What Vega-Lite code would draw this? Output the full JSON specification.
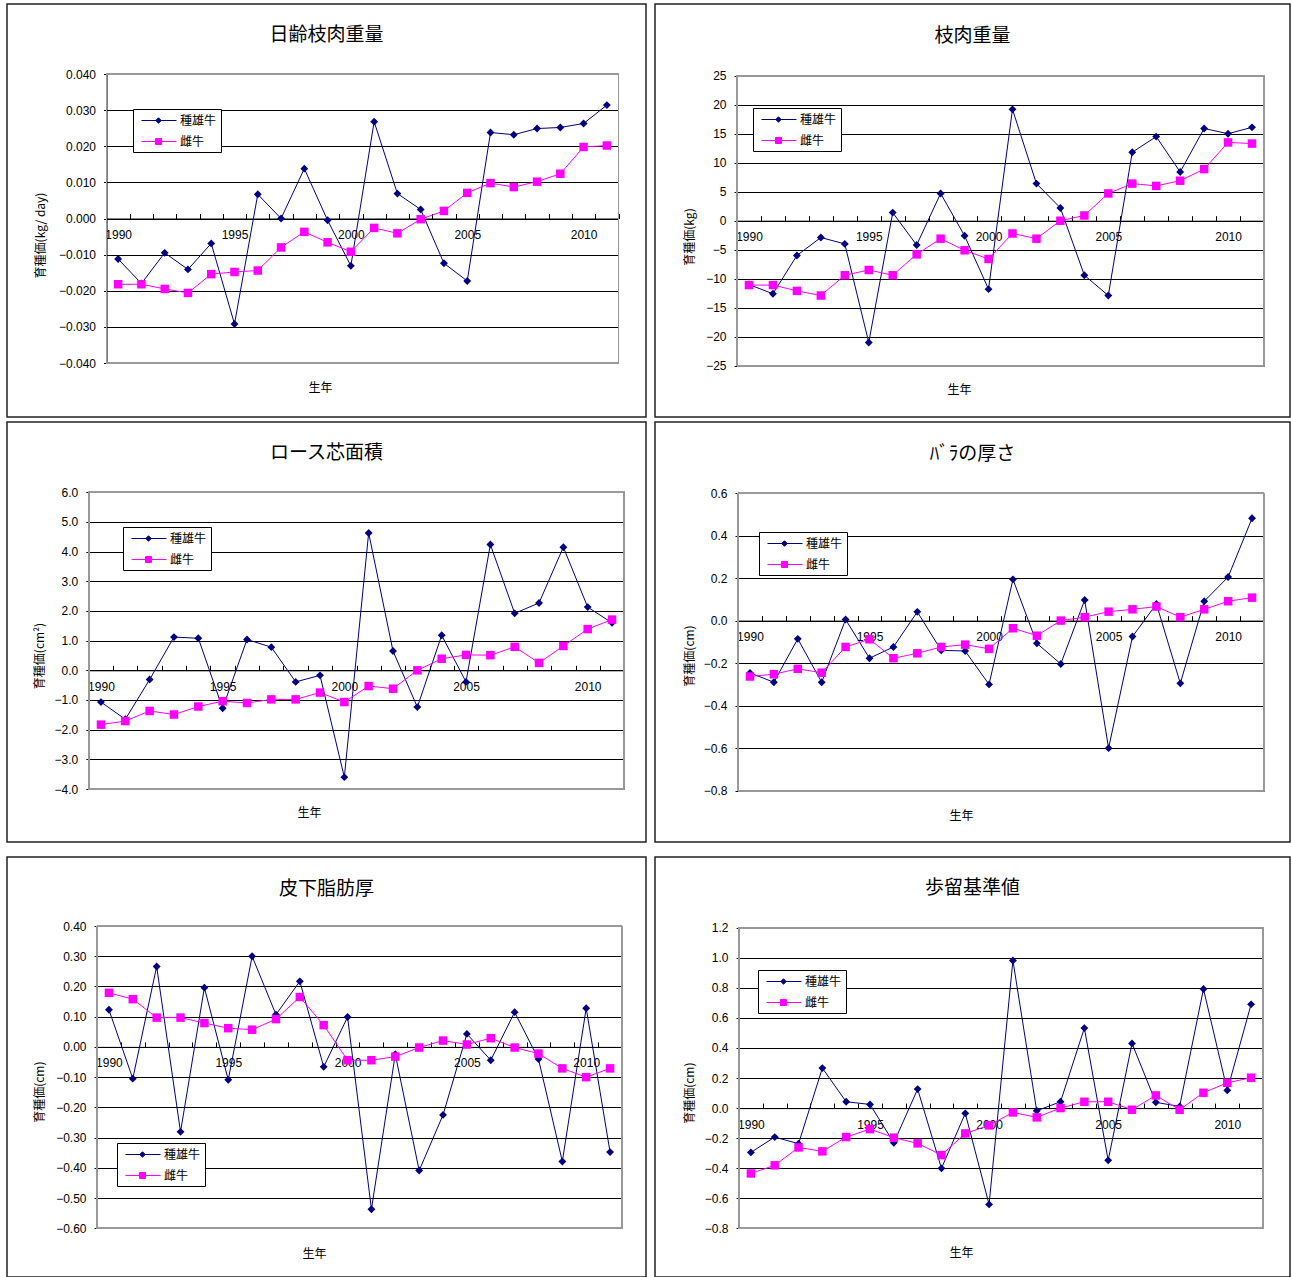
{
"$schema": "https://vega.github.io/schema/vega-lite/v6.json",
"background": "white",
"padding": {"left": 6, "top": 3, "right": 0, "bottom": 0},
"spacing": 13,
"data": {"values": [
{"p":1,"y":1990,"s":"種雄牛","v":-0.0112},{"p":1,"y":1991,"s":"種雄牛","v":-0.018},{"p":1,"y":1992,"s":"種雄牛","v":-0.0095},{"p":1,"y":1993,"s":"種雄牛","v":-0.0141},{"p":1,"y":1994,"s":"種雄牛","v":-0.0069},{"p":1,"y":1995,"s":"種雄牛","v":-0.0292},{"p":1,"y":1996,"s":"種雄牛","v":0.0067},{"p":1,"y":1997,"s":"種雄牛","v":0.0},{"p":1,"y":1998,"s":"種雄牛","v":0.0138},{"p":1,"y":1999,"s":"種雄牛","v":-0.0005},{"p":1,"y":2000,"s":"種雄牛","v":-0.0131},{"p":1,"y":2001,"s":"種雄牛","v":0.0268},{"p":1,"y":2002,"s":"種雄牛","v":0.0069},{"p":1,"y":2003,"s":"種雄牛","v":0.0025},{"p":1,"y":2004,"s":"種雄牛","v":-0.0124},{"p":1,"y":2005,"s":"種雄牛","v":-0.0173},{"p":1,"y":2006,"s":"種雄牛","v":0.0238},{"p":1,"y":2007,"s":"種雄牛","v":0.0232},{"p":1,"y":2008,"s":"種雄牛","v":0.0249},{"p":1,"y":2009,"s":"種雄牛","v":0.0252},{"p":1,"y":2010,"s":"種雄牛","v":0.0263},{"p":1,"y":2011,"s":"種雄牛","v":0.0314},
{"p":1,"y":1990,"s":"雌牛","v":-0.0182},{"p":1,"y":1991,"s":"雌牛","v":-0.0182},{"p":1,"y":1992,"s":"雌牛","v":-0.0195},{"p":1,"y":1993,"s":"雌牛","v":-0.0206},{"p":1,"y":1994,"s":"雌牛","v":-0.0154},{"p":1,"y":1995,"s":"雌牛","v":-0.0148},{"p":1,"y":1996,"s":"雌牛","v":-0.0144},{"p":1,"y":1997,"s":"雌牛","v":-0.008},{"p":1,"y":1998,"s":"雌牛","v":-0.0037},{"p":1,"y":1999,"s":"雌牛","v":-0.0066},{"p":1,"y":2000,"s":"雌牛","v":-0.0092},{"p":1,"y":2001,"s":"雌牛","v":-0.0026},{"p":1,"y":2002,"s":"雌牛","v":-0.0041},{"p":1,"y":2003,"s":"雌牛","v":-0.0002},{"p":1,"y":2004,"s":"雌牛","v":0.0021},{"p":1,"y":2005,"s":"雌牛","v":0.0071},{"p":1,"y":2006,"s":"雌牛","v":0.0098},{"p":1,"y":2007,"s":"雌牛","v":0.0087},{"p":1,"y":2008,"s":"雌牛","v":0.0102},{"p":1,"y":2009,"s":"雌牛","v":0.0124},{"p":1,"y":2010,"s":"雌牛","v":0.0198},{"p":1,"y":2011,"s":"雌牛","v":0.0202},
{"p":2,"y":1990,"s":"種雄牛","v":-11.0},{"p":2,"y":1991,"s":"種雄牛","v":-12.6},{"p":2,"y":1992,"s":"種雄牛","v":-6.0},{"p":2,"y":1993,"s":"種雄牛","v":-2.9},{"p":2,"y":1994,"s":"種雄牛","v":-4.0},{"p":2,"y":1995,"s":"種雄牛","v":-21.0},{"p":2,"y":1996,"s":"種雄牛","v":1.4},{"p":2,"y":1997,"s":"種雄牛","v":-4.2},{"p":2,"y":1998,"s":"種雄牛","v":4.7},{"p":2,"y":1999,"s":"種雄牛","v":-2.6},{"p":2,"y":2000,"s":"種雄牛","v":-11.8},{"p":2,"y":2001,"s":"種雄牛","v":19.2},{"p":2,"y":2002,"s":"種雄牛","v":6.4},{"p":2,"y":2003,"s":"種雄牛","v":2.2},{"p":2,"y":2004,"s":"種雄牛","v":-9.4},{"p":2,"y":2005,"s":"種雄牛","v":-12.9},{"p":2,"y":2006,"s":"種雄牛","v":11.8},{"p":2,"y":2007,"s":"種雄牛","v":14.5},{"p":2,"y":2008,"s":"種雄牛","v":8.4},{"p":2,"y":2009,"s":"種雄牛","v":15.9},{"p":2,"y":2010,"s":"種雄牛","v":15.0},{"p":2,"y":2011,"s":"種雄牛","v":16.1},
{"p":2,"y":1990,"s":"雌牛","v":-11.1},{"p":2,"y":1991,"s":"雌牛","v":-11.1},{"p":2,"y":1992,"s":"雌牛","v":-12.1},{"p":2,"y":1993,"s":"雌牛","v":-12.9},{"p":2,"y":1994,"s":"雌牛","v":-9.4},{"p":2,"y":1995,"s":"雌牛","v":-8.5},{"p":2,"y":1996,"s":"雌牛","v":-9.4},{"p":2,"y":1997,"s":"雌牛","v":-5.8},{"p":2,"y":1998,"s":"雌牛","v":-3.1},{"p":2,"y":1999,"s":"雌牛","v":-5.1},{"p":2,"y":2000,"s":"雌牛","v":-6.6},{"p":2,"y":2001,"s":"雌牛","v":-2.2},{"p":2,"y":2002,"s":"雌牛","v":-3.1},{"p":2,"y":2003,"s":"雌牛","v":0.0},{"p":2,"y":2004,"s":"雌牛","v":0.9},{"p":2,"y":2005,"s":"雌牛","v":4.7},{"p":2,"y":2006,"s":"雌牛","v":6.4},{"p":2,"y":2007,"s":"雌牛","v":6.0},{"p":2,"y":2008,"s":"雌牛","v":6.9},{"p":2,"y":2009,"s":"雌牛","v":8.9},{"p":2,"y":2010,"s":"雌牛","v":13.5},{"p":2,"y":2011,"s":"雌牛","v":13.3},
{"p":3,"y":1990,"s":"種雄牛","v":-1.07},{"p":3,"y":1991,"s":"種雄牛","v":-1.65},{"p":3,"y":1992,"s":"種雄牛","v":-0.31},{"p":3,"y":1993,"s":"種雄牛","v":1.12},{"p":3,"y":1994,"s":"種雄牛","v":1.08},{"p":3,"y":1995,"s":"種雄牛","v":-1.28},{"p":3,"y":1996,"s":"種雄牛","v":1.04},{"p":3,"y":1997,"s":"種雄牛","v":0.78},{"p":3,"y":1998,"s":"種雄牛","v":-0.39},{"p":3,"y":1999,"s":"種雄牛","v":-0.17},{"p":3,"y":2000,"s":"種雄牛","v":-3.6},{"p":3,"y":2001,"s":"種雄牛","v":4.63},{"p":3,"y":2002,"s":"種雄牛","v":0.65},{"p":3,"y":2003,"s":"種雄牛","v":-1.24},{"p":3,"y":2004,"s":"種雄牛","v":1.18},{"p":3,"y":2005,"s":"種雄牛","v":-0.39},{"p":3,"y":2006,"s":"種雄牛","v":4.24},{"p":3,"y":2007,"s":"種雄牛","v":1.92},{"p":3,"y":2008,"s":"種雄牛","v":2.27},{"p":3,"y":2009,"s":"種雄牛","v":4.15},{"p":3,"y":2010,"s":"種雄牛","v":2.13},{"p":3,"y":2011,"s":"種雄牛","v":1.6},
{"p":3,"y":1990,"s":"雌牛","v":-1.83},{"p":3,"y":1991,"s":"雌牛","v":-1.71},{"p":3,"y":1992,"s":"雌牛","v":-1.37},{"p":3,"y":1993,"s":"雌牛","v":-1.49},{"p":3,"y":1994,"s":"雌牛","v":-1.22},{"p":3,"y":1995,"s":"雌牛","v":-1.04},{"p":3,"y":1996,"s":"雌牛","v":-1.1},{"p":3,"y":1997,"s":"雌牛","v":-0.98},{"p":3,"y":1998,"s":"雌牛","v":-0.98},{"p":3,"y":1999,"s":"雌牛","v":-0.75},{"p":3,"y":2000,"s":"雌牛","v":-1.07},{"p":3,"y":2001,"s":"雌牛","v":-0.53},{"p":3,"y":2002,"s":"雌牛","v":-0.62},{"p":3,"y":2003,"s":"雌牛","v":0.0},{"p":3,"y":2004,"s":"雌牛","v":0.39},{"p":3,"y":2005,"s":"雌牛","v":0.52},{"p":3,"y":2006,"s":"雌牛","v":0.51},{"p":3,"y":2007,"s":"雌牛","v":0.79},{"p":3,"y":2008,"s":"雌牛","v":0.25},{"p":3,"y":2009,"s":"雌牛","v":0.82},{"p":3,"y":2010,"s":"雌牛","v":1.39},{"p":3,"y":2011,"s":"雌牛","v":1.71},
{"p":4,"y":1990,"s":"種雄牛","v":-0.246},{"p":4,"y":1991,"s":"種雄牛","v":-0.29},{"p":4,"y":1992,"s":"種雄牛","v":-0.086},{"p":4,"y":1993,"s":"種雄牛","v":-0.29},{"p":4,"y":1994,"s":"種雄牛","v":0.005},{"p":4,"y":1995,"s":"種雄牛","v":-0.177},{"p":4,"y":1996,"s":"種雄牛","v":-0.124},{"p":4,"y":1997,"s":"種雄牛","v":0.041},{"p":4,"y":1998,"s":"種雄牛","v":-0.14},{"p":4,"y":1999,"s":"種雄牛","v":-0.143},{"p":4,"y":2000,"s":"種雄牛","v":-0.3},{"p":4,"y":2001,"s":"種雄牛","v":0.194},{"p":4,"y":2002,"s":"種雄牛","v":-0.107},{"p":4,"y":2003,"s":"種雄牛","v":-0.204},{"p":4,"y":2004,"s":"種雄牛","v":0.097},{"p":4,"y":2005,"s":"種雄牛","v":-0.6},{"p":4,"y":2006,"s":"種雄牛","v":-0.075},{"p":4,"y":2007,"s":"種雄牛","v":0.078},{"p":4,"y":2008,"s":"種雄牛","v":-0.295},{"p":4,"y":2009,"s":"種雄牛","v":0.091},{"p":4,"y":2010,"s":"種雄牛","v":0.205},{"p":4,"y":2011,"s":"種雄牛","v":0.481},
{"p":4,"y":1990,"s":"雌牛","v":-0.263},{"p":4,"y":1991,"s":"雌牛","v":-0.252},{"p":4,"y":1992,"s":"雌牛","v":-0.227},{"p":4,"y":1993,"s":"雌牛","v":-0.245},{"p":4,"y":1994,"s":"雌牛","v":-0.124},{"p":4,"y":1995,"s":"雌牛","v":-0.088},{"p":4,"y":1996,"s":"雌牛","v":-0.177},{"p":4,"y":1997,"s":"雌牛","v":-0.154},{"p":4,"y":1998,"s":"雌牛","v":-0.124},{"p":4,"y":1999,"s":"雌牛","v":-0.113},{"p":4,"y":2000,"s":"雌牛","v":-0.133},{"p":4,"y":2001,"s":"雌牛","v":-0.036},{"p":4,"y":2002,"s":"雌牛","v":-0.071},{"p":4,"y":2003,"s":"雌牛","v":0.0},{"p":4,"y":2004,"s":"雌牛","v":0.016},{"p":4,"y":2005,"s":"雌牛","v":0.042},{"p":4,"y":2006,"s":"雌牛","v":0.053},{"p":4,"y":2007,"s":"雌牛","v":0.066},{"p":4,"y":2008,"s":"雌牛","v":0.016},{"p":4,"y":2009,"s":"雌牛","v":0.053},{"p":4,"y":2010,"s":"雌牛","v":0.091},{"p":4,"y":2011,"s":"雌牛","v":0.108},
{"p":5,"y":1990,"s":"種雄牛","v":0.123},{"p":5,"y":1991,"s":"種雄牛","v":-0.105},{"p":5,"y":1992,"s":"種雄牛","v":0.266},{"p":5,"y":1993,"s":"種雄牛","v":-0.281},{"p":5,"y":1994,"s":"種雄牛","v":0.196},{"p":5,"y":1995,"s":"種雄牛","v":-0.109},{"p":5,"y":1996,"s":"種雄牛","v":0.3},{"p":5,"y":1997,"s":"種雄牛","v":0.107},{"p":5,"y":1998,"s":"種雄牛","v":0.217},{"p":5,"y":1999,"s":"種雄牛","v":-0.066},{"p":5,"y":2000,"s":"種雄牛","v":0.099},{"p":5,"y":2001,"s":"種雄牛","v":-0.537},{"p":5,"y":2002,"s":"種雄牛","v":-0.024},{"p":5,"y":2003,"s":"種雄牛","v":-0.409},{"p":5,"y":2004,"s":"種雄牛","v":-0.225},{"p":5,"y":2005,"s":"種雄牛","v":0.043},{"p":5,"y":2006,"s":"種雄牛","v":-0.044},{"p":5,"y":2007,"s":"種雄牛","v":0.115},{"p":5,"y":2008,"s":"種雄牛","v":-0.04},{"p":5,"y":2009,"s":"種雄牛","v":-0.379},{"p":5,"y":2010,"s":"種雄牛","v":0.128},{"p":5,"y":2011,"s":"種雄牛","v":-0.348},
{"p":5,"y":1990,"s":"雌牛","v":0.179},{"p":5,"y":1991,"s":"雌牛","v":0.158},{"p":5,"y":1992,"s":"雌牛","v":0.097},{"p":5,"y":1993,"s":"雌牛","v":0.097},{"p":5,"y":1994,"s":"雌牛","v":0.079},{"p":5,"y":1995,"s":"雌牛","v":0.062},{"p":5,"y":1996,"s":"雌牛","v":0.057},{"p":5,"y":1997,"s":"雌牛","v":0.092},{"p":5,"y":1998,"s":"雌牛","v":0.165},{"p":5,"y":1999,"s":"雌牛","v":0.072},{"p":5,"y":2000,"s":"雌牛","v":-0.044},{"p":5,"y":2001,"s":"雌牛","v":-0.044},{"p":5,"y":2002,"s":"雌牛","v":-0.032},{"p":5,"y":2003,"s":"雌牛","v":-0.002},{"p":5,"y":2004,"s":"雌牛","v":0.021},{"p":5,"y":2005,"s":"雌牛","v":0.008},{"p":5,"y":2006,"s":"雌牛","v":0.029},{"p":5,"y":2007,"s":"雌牛","v":-0.002},{"p":5,"y":2008,"s":"雌牛","v":-0.022},{"p":5,"y":2009,"s":"雌牛","v":-0.071},{"p":5,"y":2010,"s":"雌牛","v":-0.1},{"p":5,"y":2011,"s":"雌牛","v":-0.071},
{"p":6,"y":1990,"s":"種雄牛","v":-0.295},{"p":6,"y":1991,"s":"種雄牛","v":-0.193},{"p":6,"y":1992,"s":"種雄牛","v":-0.237},{"p":6,"y":1993,"s":"種雄牛","v":0.266},{"p":6,"y":1994,"s":"種雄牛","v":0.042},{"p":6,"y":1995,"s":"種雄牛","v":0.024},{"p":6,"y":1996,"s":"種雄牛","v":-0.231},{"p":6,"y":1997,"s":"種雄牛","v":0.126},{"p":6,"y":1998,"s":"種雄牛","v":-0.401},{"p":6,"y":1999,"s":"種雄牛","v":-0.035},{"p":6,"y":2000,"s":"種雄牛","v":-0.641},{"p":6,"y":2001,"s":"種雄牛","v":0.982},{"p":6,"y":2002,"s":"種雄牛","v":-0.018},{"p":6,"y":2003,"s":"種雄牛","v":0.042},{"p":6,"y":2004,"s":"種雄牛","v":0.532},{"p":6,"y":2005,"s":"種雄牛","v":-0.348},{"p":6,"y":2006,"s":"種雄牛","v":0.43},{"p":6,"y":2007,"s":"種雄牛","v":0.038},{"p":6,"y":2008,"s":"種雄牛","v":0.011},{"p":6,"y":2009,"s":"種雄牛","v":0.792},{"p":6,"y":2010,"s":"種雄牛","v":0.118},{"p":6,"y":2011,"s":"種雄牛","v":0.69},
{"p":6,"y":1990,"s":"雌牛","v":-0.435},{"p":6,"y":1991,"s":"雌牛","v":-0.381},{"p":6,"y":1992,"s":"雌牛","v":-0.262},{"p":6,"y":1993,"s":"雌牛","v":-0.288},{"p":6,"y":1994,"s":"雌牛","v":-0.193},{"p":6,"y":1995,"s":"雌牛","v":-0.14},{"p":6,"y":1996,"s":"雌牛","v":-0.197},{"p":6,"y":1997,"s":"雌牛","v":-0.235},{"p":6,"y":1998,"s":"雌牛","v":-0.313},{"p":6,"y":1999,"s":"雌牛","v":-0.169},{"p":6,"y":2000,"s":"雌牛","v":-0.115},{"p":6,"y":2001,"s":"雌牛","v":-0.029},{"p":6,"y":2002,"s":"雌牛","v":-0.062},{"p":6,"y":2003,"s":"雌牛","v":0.0},{"p":6,"y":2004,"s":"雌牛","v":0.042},{"p":6,"y":2005,"s":"雌牛","v":0.042},{"p":6,"y":2006,"s":"雌牛","v":-0.011},{"p":6,"y":2007,"s":"雌牛","v":0.084},{"p":6,"y":2008,"s":"雌牛","v":-0.011},{"p":6,"y":2009,"s":"雌牛","v":0.102},{"p":6,"y":2010,"s":"雌牛","v":0.168},{"p":6,"y":2011,"s":"雌牛","v":0.202}
]},
"resolve": {"scale": {"x": "independent", "y": "independent", "color": "independent", "stroke": "independent", "shape": "independent"}, "legend": {"color": "independent", "stroke": "independent", "shape": "independent"}},
"vconcat": [
{"columns": 2, "spacing": {"row": 5, "column": 9}, "bounds": "flush",
 "resolve": {"scale": {"x": "independent", "y": "independent", "color": "independent", "stroke": "independent", "shape": "independent"}, "legend": {"color": "independent", "stroke": "independent", "shape": "independent"}},
 "concat": [
{"width": 639, "height": 413,
 "title": {"text": "日齢枝肉重量", "offset": -41},
 "transform": [{"filter": "datum.p == 1"}],
 "encoding": {
  "x": {"field": "y", "type": "quantitative", "scale": {"domain": [1989.5, 2011.5], "range": [99.5, 611.5], "nice": false, "zero": false},
        "axis": {"values": [1990,1991,1992,1993,1994,1995,1996,1997,1998,1999,2000,2001,2002,2003,2004,2005,2006,2007,2008,2009,2010,2011], "format": "d", "labelExpr": "datum.value % 5 == 0 ? datum.label : ''", "tickOffset": 11.64, "labelOffset": -11.64, "offset": -198.5, "title": "生年", "titleX": 313, "titleY": 168.5}},
  "y": {"field": "v", "type": "quantitative", "scale": {"domain": [-0.04, 0.04], "range": [359, 70], "nice": false, "zero": false},
        "axis": {"values": [-0.04,-0.03,-0.02,-0.01,0,0.01,0.02,0.03,0.04], "format": ".3f", "offset": -99.5, "title": "育種価(kg/ day)", "titleX": -66.5, "titleY": 231}}
 },
 "layer": [
  {"mark": {"type": "rect", "fill": null, "stroke": "#999999", "strokeWidth": 1}, "encoding": {"x": {"datum": 1989.5, "type": "quantitative"}, "x2": {"datum": 2011.5}, "y": {"datum": -0.04, "type": "quantitative"}, "y2": {"datum": 0.04}}},
  {"transform": [{"filter": "datum.s == '種雄牛'"}], "mark": {"type": "line", "color": "#000080", "strokeWidth": 1}},
  {"transform": [{"filter": "datum.s == '種雄牛'"}], "mark": {"type": "point", "shape": "diamond", "filled": true, "size": 62, "opacity": 1, "color": "#000080"}},
  {"transform": [{"filter": "datum.s == '雌牛'"}], "mark": {"type": "line", "color": "#ff00ff", "strokeWidth": 1}},
  {"transform": [{"filter": "datum.s == '雌牛'"}], "mark": {"type": "square", "filled": true, "size": 72, "opacity": 1, "color": "#ff00ff"}},
  {"transform": [{"filter": "false"}], "mark": {"type": "point", "filled": true, "opacity": 1, "strokeWidth": 1},
   "encoding": {
    "color": {"field": "s", "type": "nominal", "scale": {"domain": ["種雄牛","雌牛"], "range": ["#000080","#ff00ff"]}, "legend": {"orient": "none", "legendX": 126, "legendY": 105, "title": null}},
    "stroke": {"field": "s", "type": "nominal", "scale": {"domain": ["種雄牛","雌牛"], "range": ["#000080","#ff00ff"]}, "legend": {"orient": "none", "legendX": 126, "legendY": 105, "title": null}},
    "shape": {"field": "s", "type": "nominal", "scale": {"domain": ["種雄牛","雌牛"], "range": ["M-0.43,0H4.57M2,-0.39L2.39,0L2,0.39L1.61,0Z", "M-0.43,0H4.57M1.57,-0.43H2.43V0.43H1.57Z"]}, "legend": {"orient": "none", "legendX": 126, "legendY": 105, "title": null}}
   }}
 ]},
{"width": 635, "height": 413,
 "title": {"text": "枝肉重量", "offset": -42},
 "transform": [{"filter": "datum.p == 2"}],
 "encoding": {
  "x": {"field": "y", "type": "quantitative", "scale": {"domain": [1989.5, 2011.5], "range": [82, 609], "nice": false, "zero": false},
        "axis": {"values": [1990,1991,1992,1993,1994,1995,1996,1997,1998,1999,2000,2001,2002,2003,2004,2005,2006,2007,2008,2009,2010,2011], "format": "d", "labelExpr": "datum.value % 5 == 0 ? datum.label : ''", "tickOffset": 11.98, "labelOffset": -11.98, "offset": -196.3, "title": "生年", "titleX": 304, "titleY": 168.3}},
  "y": {"field": "v", "type": "quantitative", "scale": {"domain": [-25, 25], "range": [361.7, 71.7], "nice": false, "zero": false},
        "axis": {"values": [-25,-20,-15,-10,-5,0,5,10,15,20,25], "format": "d", "offset": -82, "title": "育種価(kg)", "titleX": -48, "titleY": 232.5}}
 },
 "layer": [
  {"mark": {"type": "rect", "fill": null, "stroke": "#999999", "strokeWidth": 1}, "encoding": {"x": {"datum": 1989.5, "type": "quantitative"}, "x2": {"datum": 2011.5}, "y": {"datum": -25, "type": "quantitative"}, "y2": {"datum": 25}}},
  {"transform": [{"filter": "datum.s == '種雄牛'"}], "mark": {"type": "line", "color": "#000080", "strokeWidth": 1}},
  {"transform": [{"filter": "datum.s == '種雄牛'"}], "mark": {"type": "point", "shape": "diamond", "filled": true, "size": 62, "opacity": 1, "color": "#000080"}},
  {"transform": [{"filter": "datum.s == '雌牛'"}], "mark": {"type": "line", "color": "#ff00ff", "strokeWidth": 1}},
  {"transform": [{"filter": "datum.s == '雌牛'"}], "mark": {"type": "square", "filled": true, "size": 72, "opacity": 1, "color": "#ff00ff"}},
  {"transform": [{"filter": "false"}], "mark": {"type": "point", "filled": true, "opacity": 1, "strokeWidth": 1},
   "encoding": {
    "color": {"field": "s", "type": "nominal", "scale": {"domain": ["種雄牛","雌牛"], "range": ["#000080","#ff00ff"]}, "legend": {"orient": "none", "legendX": 98, "legendY": 104, "title": null}},
    "stroke": {"field": "s", "type": "nominal", "scale": {"domain": ["種雄牛","雌牛"], "range": ["#000080","#ff00ff"]}, "legend": {"orient": "none", "legendX": 98, "legendY": 104, "title": null}},
    "shape": {"field": "s", "type": "nominal", "scale": {"domain": ["種雄牛","雌牛"], "range": ["M-0.43,0H4.57M2,-0.39L2.39,0L2,0.39L1.61,0Z", "M-0.43,0H4.57M1.57,-0.43H2.43V0.43H1.57Z"]}, "legend": {"orient": "none", "legendX": 98, "legendY": 104, "title": null}}
   }}
 ]},
{"width": 639, "height": 420,
 "title": {"text": "ロース芯面積", "offset": -41},
 "transform": [{"filter": "datum.p == 3"}],
 "encoding": {
  "x": {"field": "y", "type": "quantitative", "scale": {"domain": [1989.5, 2011.5], "range": [81.8, 617.2], "nice": false, "zero": false},
        "axis": {"values": [1990,1991,1992,1993,1994,1995,1996,1997,1998,1999,2000,2001,2002,2003,2004,2005,2006,2007,2008,2009,2010,2011], "format": "d", "labelExpr": "datum.value % 5 == 0 ? datum.label : ''", "tickOffset": 12.17, "labelOffset": -12.17, "offset": -171.7, "title": "生年", "titleX": 302, "titleY": 141.7}},
  "y": {"field": "v", "type": "quantitative", "scale": {"domain": [-4, 6], "range": [367, 70.3], "nice": false, "zero": false},
        "axis": {"values": [-4,-3,-2,-1,0,1,2,3,4,5,6], "format": ".1f", "offset": -81.8, "title": "育種価(cm²)", "titleX": -49.8, "titleY": 233.5}}
 },
 "layer": [
  {"mark": {"type": "rect", "fill": null, "stroke": "#999999", "strokeWidth": 1}, "encoding": {"x": {"datum": 1989.5, "type": "quantitative"}, "x2": {"datum": 2011.5}, "y": {"datum": -4, "type": "quantitative"}, "y2": {"datum": 6}}},
  {"transform": [{"filter": "datum.s == '種雄牛'"}], "mark": {"type": "line", "color": "#000080", "strokeWidth": 1}},
  {"transform": [{"filter": "datum.s == '種雄牛'"}], "mark": {"type": "point", "shape": "diamond", "filled": true, "size": 62, "opacity": 1, "color": "#000080"}},
  {"transform": [{"filter": "datum.s == '雌牛'"}], "mark": {"type": "line", "color": "#ff00ff", "strokeWidth": 1}},
  {"transform": [{"filter": "datum.s == '雌牛'"}], "mark": {"type": "square", "filled": true, "size": 72, "opacity": 1, "color": "#ff00ff"}},
  {"transform": [{"filter": "false"}], "mark": {"type": "point", "filled": true, "opacity": 1, "strokeWidth": 1},
   "encoding": {
    "color": {"field": "s", "type": "nominal", "scale": {"domain": ["種雄牛","雌牛"], "range": ["#000080","#ff00ff"]}, "legend": {"orient": "none", "legendX": 116, "legendY": 105, "title": null}},
    "stroke": {"field": "s", "type": "nominal", "scale": {"domain": ["種雄牛","雌牛"], "range": ["#000080","#ff00ff"]}, "legend": {"orient": "none", "legendX": 116, "legendY": 105, "title": null}},
    "shape": {"field": "s", "type": "nominal", "scale": {"domain": ["種雄牛","雌牛"], "range": ["M-0.43,0H4.57M2,-0.39L2.39,0L2,0.39L1.61,0Z", "M-0.43,0H4.57M1.57,-0.43H2.43V0.43H1.57Z"]}, "legend": {"orient": "none", "legendX": 116, "legendY": 105, "title": null}}
   }}
 ]},
{"width": 635, "height": 420,
 "title": {"text": "ﾊﾞﾗの厚さ", "offset": -42},
 "transform": [{"filter": "datum.p == 4"}],
 "encoding": {
  "x": {"field": "y", "type": "quantitative", "scale": {"domain": [1989.5, 2011.5], "range": [83, 609], "nice": false, "zero": false},
        "axis": {"values": [1990,1991,1992,1993,1994,1995,1996,1997,1998,1999,2000,2001,2002,2003,2004,2005,2006,2007,2008,2009,2010,2011], "format": "d", "labelExpr": "datum.value % 5 == 0 ? datum.label : ''", "tickOffset": 11.95, "labelOffset": -11.95, "offset": -221.4, "title": "生年", "titleX": 306, "titleY": 194.4}},
  "y": {"field": "v", "type": "quantitative", "scale": {"domain": [-0.8, 0.6], "range": [368.7, 71], "nice": false, "zero": false},
        "axis": {"values": [-0.8,-0.6,-0.4,-0.2,0,0.2,0.4,0.6], "format": ".1f", "offset": -83, "title": "育種価(cm)", "titleX": -49, "titleY": 233.5}}
 },
 "layer": [
  {"mark": {"type": "rect", "fill": null, "stroke": "#999999", "strokeWidth": 1}, "encoding": {"x": {"datum": 1989.5, "type": "quantitative"}, "x2": {"datum": 2011.5}, "y": {"datum": -0.8, "type": "quantitative"}, "y2": {"datum": 0.6}}},
  {"transform": [{"filter": "datum.s == '種雄牛'"}], "mark": {"type": "line", "color": "#000080", "strokeWidth": 1}},
  {"transform": [{"filter": "datum.s == '種雄牛'"}], "mark": {"type": "point", "shape": "diamond", "filled": true, "size": 62, "opacity": 1, "color": "#000080"}},
  {"transform": [{"filter": "datum.s == '雌牛'"}], "mark": {"type": "line", "color": "#ff00ff", "strokeWidth": 1}},
  {"transform": [{"filter": "datum.s == '雌牛'"}], "mark": {"type": "square", "filled": true, "size": 72, "opacity": 1, "color": "#ff00ff"}},
  {"transform": [{"filter": "false"}], "mark": {"type": "point", "filled": true, "opacity": 1, "strokeWidth": 1},
   "encoding": {
    "color": {"field": "s", "type": "nominal", "scale": {"domain": ["種雄牛","雌牛"], "range": ["#000080","#ff00ff"]}, "legend": {"orient": "none", "legendX": 104, "legendY": 110, "title": null}},
    "stroke": {"field": "s", "type": "nominal", "scale": {"domain": ["種雄牛","雌牛"], "range": ["#000080","#ff00ff"]}, "legend": {"orient": "none", "legendX": 104, "legendY": 110, "title": null}},
    "shape": {"field": "s", "type": "nominal", "scale": {"domain": ["種雄牛","雌牛"], "range": ["M-0.43,0H4.57M2,-0.39L2.39,0L2,0.39L1.61,0Z", "M-0.43,0H4.57M1.57,-0.43H2.43V0.43H1.57Z"]}, "legend": {"orient": "none", "legendX": 104, "legendY": 110, "title": null}}
   }}
 ]}
 ]},
{"hconcat": [
{"width": 639, "height": 420,
 "title": {"text": "皮下脂肪厚", "offset": -41.7},
 "transform": [{"filter": "datum.p == 5"}],
 "encoding": {
  "x": {"field": "y", "type": "quantitative", "scale": {"domain": [1989.5, 2011.5], "range": [90, 615], "nice": false, "zero": false},
        "axis": {"values": [1990,1991,1992,1993,1994,1995,1996,1997,1998,1999,2000,2001,2002,2003,2004,2005,2006,2007,2008,2009,2010,2011], "format": "d", "labelExpr": "datum.value % 5 == 0 ? datum.label : ''", "tickOffset": 11.93, "labelOffset": -11.93, "offset": -230.1, "title": "生年", "titleX": 307, "titleY": 206.1}},
  "y": {"field": "v", "type": "quantitative", "scale": {"domain": [-0.6, 0.4], "range": [371.3, 69], "nice": false, "zero": false},
        "axis": {"values": [-0.6,-0.5,-0.4,-0.3,-0.2,-0.1,0,0.1,0.2,0.3,0.4], "format": ".2f", "offset": -90, "title": "育種価(cm)", "titleX": -58, "titleY": 234.7}}
 },
 "layer": [
  {"mark": {"type": "rect", "fill": null, "stroke": "#999999", "strokeWidth": 1}, "encoding": {"x": {"datum": 1989.5, "type": "quantitative"}, "x2": {"datum": 2011.5}, "y": {"datum": -0.6, "type": "quantitative"}, "y2": {"datum": 0.4}}},
  {"transform": [{"filter": "datum.s == '種雄牛'"}], "mark": {"type": "line", "color": "#000080", "strokeWidth": 1}},
  {"transform": [{"filter": "datum.s == '種雄牛'"}], "mark": {"type": "point", "shape": "diamond", "filled": true, "size": 62, "opacity": 1, "color": "#000080"}},
  {"transform": [{"filter": "datum.s == '雌牛'"}], "mark": {"type": "line", "color": "#ff00ff", "strokeWidth": 1}},
  {"transform": [{"filter": "datum.s == '雌牛'"}], "mark": {"type": "square", "filled": true, "size": 72, "opacity": 1, "color": "#ff00ff"}},
  {"transform": [{"filter": "false"}], "mark": {"type": "point", "filled": true, "opacity": 1, "strokeWidth": 1},
   "encoding": {
    "color": {"field": "s", "type": "nominal", "scale": {"domain": ["種雄牛","雌牛"], "range": ["#000080","#ff00ff"]}, "legend": {"orient": "none", "legendX": 110, "legendY": 286, "title": null}},
    "stroke": {"field": "s", "type": "nominal", "scale": {"domain": ["種雄牛","雌牛"], "range": ["#000080","#ff00ff"]}, "legend": {"orient": "none", "legendX": 110, "legendY": 286, "title": null}},
    "shape": {"field": "s", "type": "nominal", "scale": {"domain": ["種雄牛","雌牛"], "range": ["M-0.43,0H4.57M2,-0.39L2.39,0L2,0.39L1.61,0Z", "M-0.43,0H4.57M1.57,-0.43H2.43V0.43H1.57Z"]}, "legend": {"orient": "none", "legendX": 110, "legendY": 286, "title": null}}
   }}
 ]},
{"width": 635, "height": 420,
 "title": {"text": "歩留基準値", "offset": -41},
 "transform": [{"filter": "datum.p == 6"}],
 "encoding": {
  "x": {"field": "y", "type": "quantitative", "scale": {"domain": [1989.5, 2011.5], "range": [84, 608], "nice": false, "zero": false},
        "axis": {"values": [1990,1991,1992,1993,1994,1995,1996,1997,1998,1999,2000,2001,2002,2003,2004,2005,2006,2007,2008,2009,2010,2011], "format": "d", "labelExpr": "datum.value % 5 == 0 ? datum.label : ''", "tickOffset": 11.9, "labelOffset": -11.9, "offset": -168.9, "title": "生年", "titleX": 306, "titleY": 144.6}},
  "y": {"field": "v", "type": "quantitative", "scale": {"domain": [-0.8, 1.2], "range": [371.3, 70.7], "nice": false, "zero": false},
        "axis": {"values": [-0.8,-0.6,-0.4,-0.2,0,0.2,0.4,0.6,0.8,1.0,1.2], "format": ".1f", "offset": -84, "title": "育種価(cm)", "titleX": -50, "titleY": 235.7}}
 },
 "layer": [
  {"mark": {"type": "rect", "fill": null, "stroke": "#999999", "strokeWidth": 1}, "encoding": {"x": {"datum": 1989.5, "type": "quantitative"}, "x2": {"datum": 2011.5}, "y": {"datum": -0.8, "type": "quantitative"}, "y2": {"datum": 1.2}}},
  {"transform": [{"filter": "datum.s == '種雄牛'"}], "mark": {"type": "line", "color": "#000080", "strokeWidth": 1}},
  {"transform": [{"filter": "datum.s == '種雄牛'"}], "mark": {"type": "point", "shape": "diamond", "filled": true, "size": 62, "opacity": 1, "color": "#000080"}},
  {"transform": [{"filter": "datum.s == '雌牛'"}], "mark": {"type": "line", "color": "#ff00ff", "strokeWidth": 1}},
  {"transform": [{"filter": "datum.s == '雌牛'"}], "mark": {"type": "square", "filled": true, "size": 72, "opacity": 1, "color": "#ff00ff"}},
  {"transform": [{"filter": "false"}], "mark": {"type": "point", "filled": true, "opacity": 1, "strokeWidth": 1},
   "encoding": {
    "color": {"field": "s", "type": "nominal", "scale": {"domain": ["種雄牛","雌牛"], "range": ["#000080","#ff00ff"]}, "legend": {"orient": "none", "legendX": 103, "legendY": 113, "title": null}},
    "stroke": {"field": "s", "type": "nominal", "scale": {"domain": ["種雄牛","雌牛"], "range": ["#000080","#ff00ff"]}, "legend": {"orient": "none", "legendX": 103, "legendY": 113, "title": null}},
    "shape": {"field": "s", "type": "nominal", "scale": {"domain": ["種雄牛","雌牛"], "range": ["M-0.43,0H4.57M2,-0.39L2.39,0L2,0.39L1.61,0Z", "M-0.43,0H4.57M1.57,-0.43H2.43V0.43H1.57Z"]}, "legend": {"orient": "none", "legendX": 103, "legendY": 113, "title": null}}
   }}
 ]}
], "spacing": 9, "bounds": "flush",
 "resolve": {"scale": {"x": "independent", "y": "independent", "color": "independent", "stroke": "independent", "shape": "independent"}, "legend": {"color": "independent", "stroke": "independent", "shape": "independent"}}}
],
"config": {
 "view": {"stroke": "#222222", "strokeWidth": 1.5},
 "title": {"font": "Noto Sans CJK JP", "fontSize": 19, "fontWeight": "normal", "color": "#000000", "anchor": "middle", "frame": "group", "baseline": "middle"},
 "axis": {"labelFont": "Liberation Sans", "labelFontSize": 12, "labelColor": "#000000", "titleFont": "Noto Sans CJK JP", "titleFontSize": 12, "titleFontWeight": "normal", "titleColor": "#000000", "domainColor": "#000000", "domainWidth": 1, "tickColor": "#000000", "gridColor": "#000000", "gridOpacity": 1, "gridWidth": 1, "labelFlush": false, "labelOverlap": false, "labelBound": false},
 "axisX": {"grid": false, "tickSize": -5, "labelPadding": 16, "titleBaseline": "middle", "titleAlign": "center"},
 "axisY": {"grid": true, "tickSize": 3, "labelPadding": 8, "titleBaseline": "middle", "titleAlign": "center", "titleAngle": -90},
 "legend": {"padding": 4, "rowPadding": 7, "symbolSize": 196, "symbolStrokeWidth": 1, "labelOffset": 28, "labelExpr": "datum.label + '\u2002'", "labelFont": "Noto Sans CJK JP", "labelFontSize": 12, "labelColor": "#000000", "strokeColor": "#000000", "fillColor": "#ffffff", "symbolOpacity": 1, "labelBaseline": "middle"}
}
}
